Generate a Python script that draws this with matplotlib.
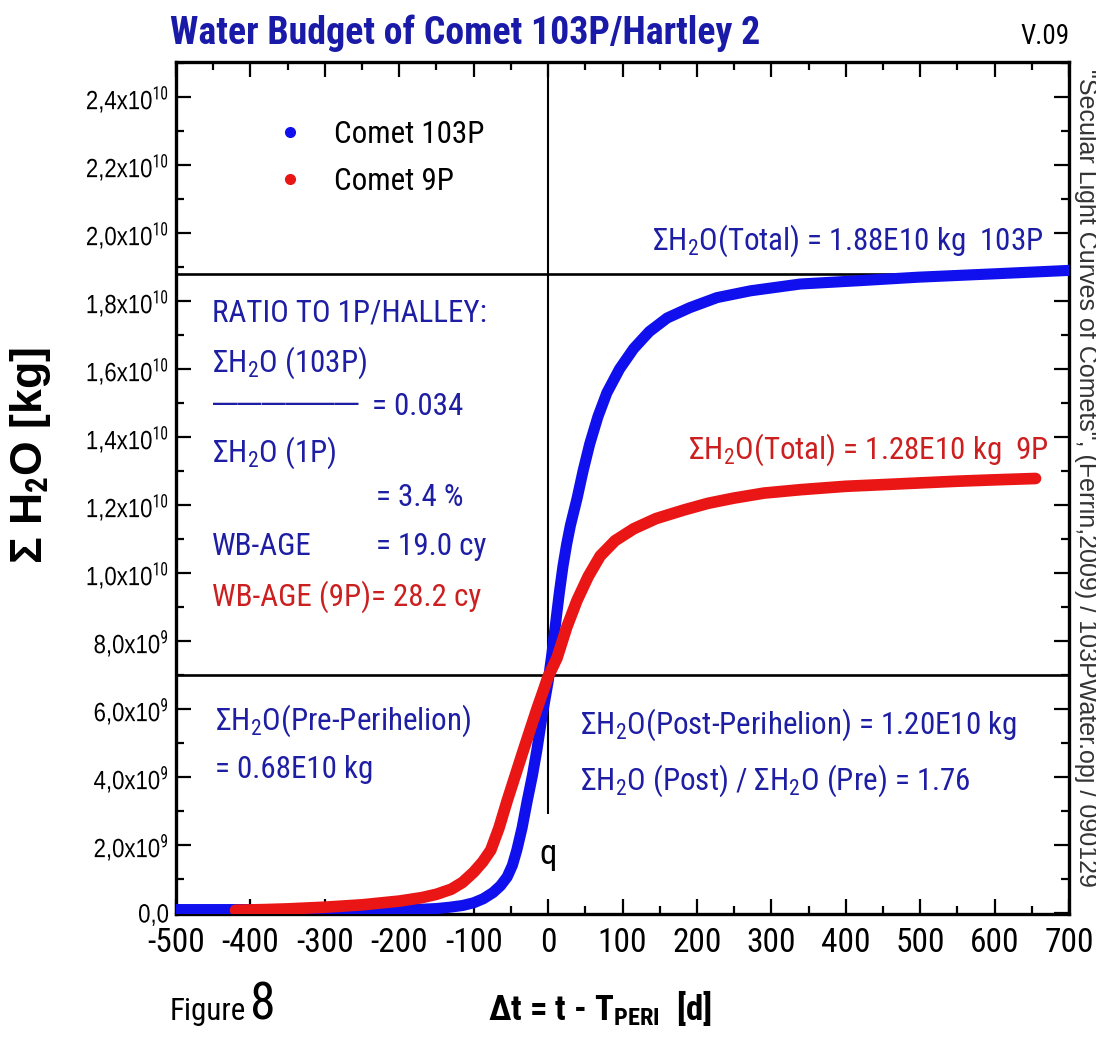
"""Cumulative water budget of comets 103P/Hartley 2 and 9P around perihelion (Figure 8)."""

from __future__ import annotations

import matplotlib

matplotlib.use("Agg")

import matplotlib.pyplot as plt
import numpy as np
from matplotlib import font_manager
from matplotlib.lines import Line2D
from matplotlib.patheffects import AbstractPathEffect
from matplotlib.ticker import FixedLocator, MultipleLocator
from matplotlib.transforms import Affine2D


FIG_W, FIG_H, DPI = 1096, 1042, 100

# days from perihelion and cumulative water mass (units of 1e9 kg)
DAYS_103P = [-500, -400, -300, -250, -200, -170, -150, -132, -115, -100, -87, -74, -64, -55, -48, -42,
             -35, -28, -21, -15, -8, 0, 5, 10, 15, 20, 25, 30, 39, 47, 56, 67, 79, 96, 115, 136, 160,
             190, 227, 272, 339, 420, 497, 600, 700]
MASS_103P = [0.1, 0.1, 0.1, 0.1, 0.1, 0.11, 0.13, 0.17, 0.22, 0.3, 0.42, 0.6, 0.8, 1.06, 1.4, 1.85,
             2.5, 3.3, 4.05, 4.8, 5.8, 6.8, 7.6, 8.5, 9.4, 10.2, 10.85, 11.4, 12.2, 13.0, 13.8, 14.6,
             15.3, 16.0, 16.6, 17.1, 17.5, 17.8, 18.1, 18.3, 18.5, 18.6, 18.7, 18.8, 18.9]
DAYS_9P = [-420, -380, -350, -300, -250, -200, -170, -150, -130, -115, -100, -88, -77, -66, -55, -44,
           -33, -24, -15, -7, 0, 12, 25, 39, 54, 70, 90, 115, 145, 182, 215, 249, 290, 339, 400,
           451, 500, 550, 600, 655]
MASS_9P = [0.08, 0.1, 0.12, 0.17, 0.24, 0.35, 0.45, 0.55, 0.7, 0.9, 1.2, 1.5, 1.85, 2.5, 3.3, 4.05,
           4.8, 5.4, 6.0, 6.5, 6.95, 7.5, 8.4, 9.2, 9.9, 10.5, 10.95, 11.3, 11.6, 11.85, 12.05, 12.2,
           12.35, 12.45, 12.55, 12.6, 12.65, 12.7, 12.74, 12.78]
MASS_UNIT = 1e9

TOTAL_103P = 1.88e10
PRE_PERIHELION_LEVEL = 0.70e10
Q_LINE_BOTTOM = 2.9e9

X_TICKS = list(range(-500, 701, 100))
Y_TICKS = [0.0, 2e9, 4e9, 6e9, 8e9, 1e10, 1.2e10, 1.4e10, 1.6e10, 1.8e10, 2e10, 2.2e10, 2.4e10]
Y_TICK_LABELS = ["0,0", r"2,0x10$^9$", r"4,0x10$^9$", r"6,0x10$^9$", r"8,0x10$^9$",
                 r"1,0x10$^{10}$", r"1,2x10$^{10}$", r"1,4x10$^{10}$", r"1,6x10$^{10}$",
                 r"1,8x10$^{10}$", r"2,0x10$^{10}$", r"2,2x10$^{10}$", r"2,4x10$^{10}$"]
SERIES_LABELS = ["Comet 103P", "Comet 9P"]

BLUE_LINE = "#1010ee"
RED_LINE = "#ea1616"
BLUE_TEXT = "#1e1ea4"
RED_TEXT = "#cc2020"
FONT = "Liberation Sans"


def find_family(candidates: list[str]) -> str | None:
    names = {entry.name for entry in font_manager.fontManager.ttflist}
    return next((name for name in candidates if name in names), None)


# the original is set in Arial Narrow; a condensed face gives the same tall, tight look
NARROW = find_family(["Roboto Condensed", "Liberation Sans Narrow"]) or FONT
TEXT_SCALE = 0.93 if NARROW != FONT else 0.84


class Condensed(AbstractPathEffect):
    """Squeeze glyphs horizontally (y tick labels only)."""

    def __init__(self, factor: float = 0.84, anchor: str = "right"):
        super().__init__()
        self._factor = factor
        self._anchor = anchor

    def draw_path(self, renderer, gc, tpath, affine, rgbFace=None):
        ext = tpath.get_extents()
        pivot = {"left": 0.0, "center": (ext.x0 + ext.x1) / 2, "right": ext.x1}[self._anchor]
        squeeze = Affine2D().translate(-pivot, 0).scale(self._factor, 1).translate(pivot, 0)
        renderer.draw_path(gc, tpath, squeeze + affine, rgbFace)


def fx(x: float) -> float:
    return x / FIG_W


def fy(y: float) -> float:
    return 1 - y / FIG_H


def configure_fonts() -> None:
    plt.rcParams["font.family"] = [NARROW, "DejaVu Sans"]
    plt.rcParams["mathtext.fontset"] = "custom"
    plt.rcParams["mathtext.rm"] = NARROW
    plt.rcParams["mathtext.it"] = f"{NARROW}:italic"
    plt.rcParams["mathtext.bf"] = f"{NARROW}:bold"


def label(fig, x, y, text, color=BLUE_TEXT, size=24, ha="left", narrow=True, **kwargs):
    kwargs.setdefault("va", "baseline")
    if narrow:
        size = size * TEXT_SCALE
    else:
        kwargs.setdefault("family", FONT)
    fig.text(fx(x), fy(y), text, color=color, fontsize=size, ha=ha, **kwargs)


def draw_axes(fig):
    left, right, top, bottom = 176, 1069, 62, 914
    ax = fig.add_axes([fx(left), fy(bottom), (right - left) / FIG_W, (bottom - top) / FIG_H])
    ax.set_xlim(-500, 700)
    ax.set_ylim(-0.03e9, 2.503e10)

    ax.plot(DAYS_103P, np.array(MASS_103P) * MASS_UNIT, color=BLUE_LINE, lw=8,
            solid_capstyle="round", solid_joinstyle="round", zorder=3)
    ax.plot(DAYS_9P, np.array(MASS_9P) * MASS_UNIT, color=RED_LINE, lw=8.4,
            solid_capstyle="round", solid_joinstyle="round", zorder=4)

    ax.axhline(TOTAL_103P, color="black", lw=1.9, zorder=2)
    ax.axhline(PRE_PERIHELION_LEVEL, color="black", lw=1.9, zorder=2)
    ax.vlines(0, Q_LINE_BOTTOM, 2.6e10, color="black", lw=1.5, zorder=2)

    ax.xaxis.set_major_locator(FixedLocator(X_TICKS))
    ax.xaxis.set_minor_locator(MultipleLocator(50))
    ax.yaxis.set_major_locator(FixedLocator(Y_TICKS))
    ax.yaxis.set_minor_locator(MultipleLocator(1e9))
    ax.set_xticklabels([str(t) for t in X_TICKS])
    ax.set_yticklabels(Y_TICK_LABELS)

    ax.tick_params(which="both", direction="in", top=True, right=True, width=1.6, colors="black")
    ax.tick_params(which="major", length=11)
    ax.tick_params(which="minor", length=6)
    ax.tick_params(axis="x", which="major", pad=9, labelsize=24)
    ax.tick_params(axis="y", which="major", pad=5, labelsize=19)
    for tick in ax.get_yticklabels():
        tick.set_fontfamily(FONT)
        tick.set_path_effects([Condensed(0.84, "right")])
    for spine in ax.spines.values():
        spine.set_linewidth(2.4)

    handles = [Line2D([], [], ls="none", marker="o", ms=7, color=BLUE_LINE),
               Line2D([], [], ls="none", marker="o", ms=7, color=RED_LINE)]
    ax.legend(handles, SERIES_LABELS, loc="upper left",
              bbox_to_anchor=((278 - left) / (right - left), (bottom - 120) / (bottom - top)),
              frameon=False, fontsize=24 * TEXT_SCALE, handlelength=0.8, handletextpad=1.0,
              labelspacing=0.58, borderpad=0, borderaxespad=0)
    return ax


def draw_texts(fig):
    label(fig, 170, 44, "Water Budget of Comet 103P/Hartley 2", size=29.3, fontweight="bold",
          color="#1a1aa8")
    label(fig, 1070, 44, "V.09", color="black", size=21, ha="right")

    label(fig, 652, 250, "ΣH$_2$O(Total) = 1.88E10 kg  103P")
    label(fig, 212, 322, "RATIO TO 1P/HALLEY:")
    label(fig, 212, 372, "ΣH$_2$O (103P)")
    label(fig, 213, 410, "——————", size=17.5, narrow=False, fontweight="bold")
    label(fig, 372, 415, "= 0.034")
    label(fig, 212, 462, "ΣH$_2$O (1P)")
    label(fig, 376, 506, "= 3.4 %")
    label(fig, 212, 555, "WB-AGE")
    label(fig, 376, 555, "= 19.0 cy")
    label(fig, 212, 606, "WB-AGE (9P)= 28.2 cy", color=RED_TEXT)
    label(fig, 688, 459, "ΣH$_2$O(Total) = 1.28E10 kg  9P", color=RED_TEXT)

    label(fig, 215, 730, "ΣH$_2$O(Pre-Perihelion)")
    label(fig, 215, 778, "= 0.68E10 kg")
    label(fig, 580, 734, "ΣH$_2$O(Post-Perihelion) = 1.20E10 kg")
    label(fig, 580, 790, "ΣH$_2$O (Post) / ΣH$_2$O (Pre) = 1.76")
    label(fig, 548, 864, "q", color="black", size=27, ha="center")

    label(fig, 1086, 478,
          "\"Secular Light Curves of Comets\", (Ferrin,2009) / 103PWater.opj / 090129",
          color="#333333", size=18, ha="center", va="center", rotation=-90, narrow=False)

    label(fig, 31, 456, "Σ H$_\\mathbf{2}$O [kg]", color="black", size=32, ha="center",
          va="center", rotation=90, fontweight="bold", narrow=False)
    label(fig, 600, 1020, "Δt = t - T$_\\mathbf{PERI}$  [d]", color="black", size=27,
          ha="center", fontweight="bold")
    label(fig, 170, 1020, "Figure", color="black", size=24)
    label(fig, 250, 1020, "8", color="black", size=40)


def main() -> None:
    configure_fonts()
    fig = plt.figure(figsize=(FIG_W / DPI, FIG_H / DPI), dpi=DPI, facecolor="white")
    draw_axes(fig)
    draw_texts(fig)
    fig.savefig("out.png", dpi=DPI, facecolor="white")
    plt.close(fig)


if __name__ == "__main__":
    main()
